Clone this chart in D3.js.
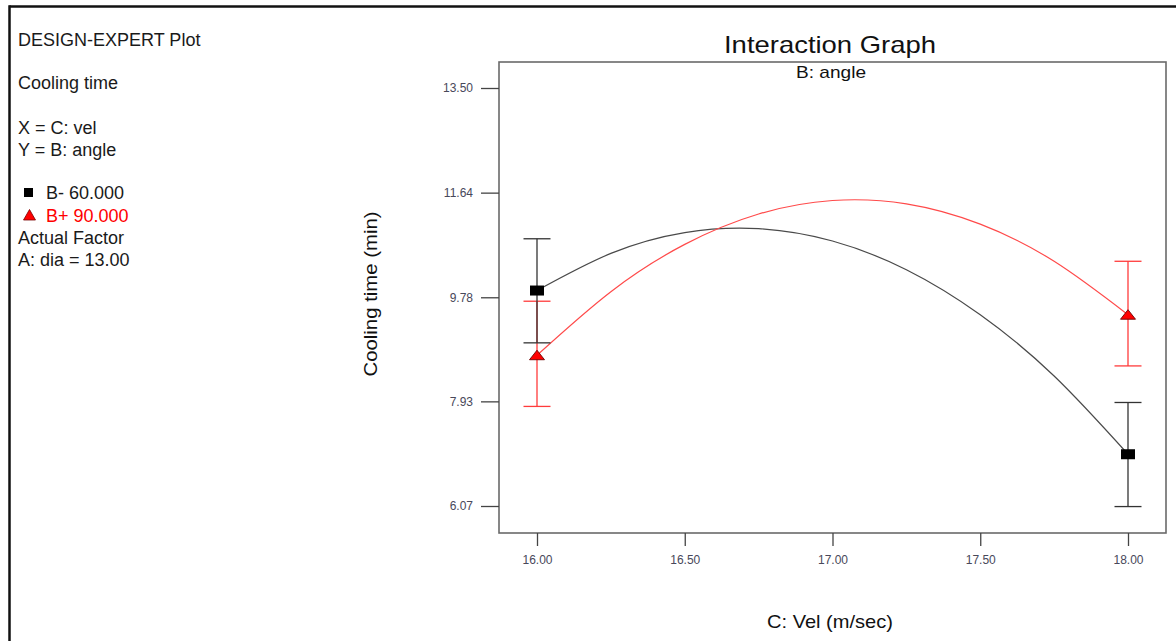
<!DOCTYPE html>
<html>
<head>
<meta charset="utf-8">
<script src="https://cdn.jsdelivr.net/npm/d3@7"></script>
<style>
  html, body { margin: 0; padding: 0; background: #fff; }
  svg { display: block; font-family: "Liberation Sans", Arial, sans-serif; }
</style>
</head>
<body>
<svg id="chart" width="1176" height="641"></svg>
<script>
// ---- data ----
const xLevels = [16.00, 18.00];
const bMinusMean = [9.90, 6.99];
const bMinusLow  = [8.97, 6.06];
const bMinusHigh = [10.82, 7.91];
const bPlusMean  = [8.75, 9.47];
const bPlusLow   = [7.84, 8.56];
const bPlusHigh  = [9.71, 10.42];
const curveX      = [16.00, 16.25, 16.50, 16.75, 17.00, 17.25, 17.50, 17.75, 18.00];
const bMinusCurve = [9.90, 10.56, 10.93, 11.00, 10.78, 10.27, 9.47, 8.38, 6.99];
const bPlusCurve  = [8.75, 9.88, 10.72, 11.26, 11.50, 11.44, 11.08, 10.42, 9.47];
const yTickValues = [6.07, 7.93, 9.78, 11.64, 13.50];
const yTickLabels = ["6.07", "7.93", "9.78", "11.64", "13.50"];
const xTickValues = [16.00, 16.50, 17.00, 17.50, 18.00];
const xTickLabels = ["16.00", "16.50", "17.00", "17.50", "18.00"];
const infoLines = ["DESIGN-EXPERT Plot", "Cooling time", "X = C: vel", "Y = B: angle"];
const seriesNames = ["B- 60.000", "B+ 90.000"];
const factorLines = ["Actual Factor", "A: dia = 13.00"];

// ---- layout ----
const svg = d3.select("#chart");
const frame = { left: 499, top: 62, right: 1166, bottom: 533 };
const x = d3.scaleLinear().domain([16, 18]).range([537, 1128]);
const y = d3.scaleLinear().domain([6.07, 13.50]).range([506, 88]);
const tickColor = "#48485a";
const axisColor = "#6a6a6a";

// outer border (top + left)
svg.append("line").attr("x1", 9.5).attr("x2", 1176).attr("y1", 6.5).attr("y2", 6.5)
  .attr("stroke", "#111").attr("stroke-width", 2.5);
svg.append("line").attr("x1", 9.5).attr("x2", 9.5).attr("y1", 5.3).attr("y2", 641)
  .attr("stroke", "#111").attr("stroke-width", 2.5);

// legend / info text
const info = svg.append("g").attr("font-size", 18).attr("fill", "#1a1a1a");
const infoY = [46, 89, 134, 156];
infoLines.forEach((t, i) => info.append("text").attr("x", 18).attr("y", infoY[i]).text(t));
info.append("rect").attr("x", 24).attr("y", 188).attr("width", 9).attr("height", 9).attr("fill", "#000");
info.append("text").attr("x", 46).attr("y", 199).text(seriesNames[0]);
info.append("path").attr("d", "M29.5,209.5 L35.5,220 L23.5,220 Z")
  .attr("fill", "#ff0000").attr("stroke", "#7a0000").attr("stroke-width", 0.8);
info.append("text").attr("x", 46).attr("y", 222).attr("fill", "#ff0000").text(seriesNames[1]);
info.append("text").attr("x", 18).attr("y", 244).text(factorLines[0]);
info.append("text").attr("x", 18).attr("y", 266).text(factorLines[1]);

// plot frame
svg.append("rect").attr("x", frame.left).attr("y", frame.top)
  .attr("width", frame.right - frame.left).attr("height", frame.bottom - frame.top)
  .attr("fill", "none").attr("stroke", axisColor).attr("stroke-width", 1.6);

// axes
const yAxis = d3.axisLeft(y).tickValues(yTickValues).tickSize(18).tickPadding(8)
  .tickFormat((d, i) => yTickLabels[i]);
const gy = svg.append("g").attr("transform", `translate(${frame.left},0)`).call(yAxis);
gy.select(".domain").remove();
gy.selectAll(".tick line").attr("stroke", "#444").attr("stroke-width", 1.3);
gy.selectAll(".tick text").attr("fill", tickColor).attr("font-size", 12)
  .attr("font-family", "'Liberation Sans', Arial, sans-serif");

const xAxis = d3.axisBottom(x).tickValues(xTickValues).tickSize(13).tickPadding(9)
  .tickFormat((d, i) => xTickLabels[i]);
const gx = svg.append("g").attr("transform", `translate(0,${frame.bottom})`).call(xAxis);
gx.select(".domain").remove();
gx.selectAll(".tick line").attr("stroke", "#444").attr("stroke-width", 1.3);
gx.selectAll(".tick text").attr("fill", tickColor).attr("font-size", 12)
  .attr("font-family", "'Liberation Sans', Arial, sans-serif");

// titles
svg.append("text").attr("x", 830).attr("y", 53).attr("text-anchor", "middle")
  .attr("font-size", 24).attr("fill", "#111")
  .attr("textLength", 212).attr("lengthAdjust", "spacingAndGlyphs").text("Interaction Graph");
svg.append("text").attr("x", 831).attr("y", 78).attr("text-anchor", "middle")
  .attr("font-size", 17).attr("fill", "#111")
  .attr("textLength", 70).attr("lengthAdjust", "spacingAndGlyphs").text("B: angle");
svg.append("text").attr("x", 830).attr("y", 628).attr("text-anchor", "middle")
  .attr("font-size", 19).attr("fill", "#111")
  .attr("textLength", 126).attr("lengthAdjust", "spacingAndGlyphs").text("C: Vel (m/sec)");
svg.append("text").attr("transform", "translate(377,294) rotate(-90)").attr("text-anchor", "middle")
  .attr("font-size", 19).attr("fill", "#111")
  .attr("textLength", 165).attr("lengthAdjust", "spacingAndGlyphs").text("Cooling time (min)");

// curves
const line = d3.line().x(d => x(d[0])).y(d => y(d[1])).curve(d3.curveNatural);
svg.append("path").datum(curveX.map((v, i) => [v, bMinusCurve[i]]))
  .attr("d", line).attr("fill", "none").attr("stroke", "#4a4a4a").attr("stroke-width", 1.2);
svg.append("path").datum(curveX.map((v, i) => [v, bPlusCurve[i]]))
  .attr("d", line).attr("fill", "none").attr("stroke", "#ff4a4a").attr("stroke-width", 1.2);

// error bars
function errBars(lows, highs, color) {
  const g = svg.append("g").attr("stroke", color).attr("stroke-width", 1.3);
  xLevels.forEach((xv, i) => {
    const cx = x(xv);
    g.append("line").attr("x1", cx).attr("x2", cx).attr("y1", y(lows[i])).attr("y2", y(highs[i]));
    g.append("line").attr("x1", cx - 13.5).attr("x2", cx + 13.5).attr("y1", y(lows[i])).attr("y2", y(lows[i]));
    g.append("line").attr("x1", cx - 13.5).attr("x2", cx + 13.5).attr("y1", y(highs[i])).attr("y2", y(highs[i]));
  });
}
errBars(bPlusLow, bPlusHigh, "#ff3b3b");
errBars(bMinusLow, bMinusHigh, "#333333");

// markers
xLevels.forEach((xv, i) => {
  svg.append("rect").attr("x", x(xv) - 7).attr("y", y(bMinusMean[i]) - 5)
    .attr("width", 14).attr("height", 10).attr("fill", "#000");
});
xLevels.forEach((xv, i) => {
  const cx = x(xv), cy = y(bPlusMean[i]);
  svg.append("path").attr("d", `M${cx},${cy - 5} L${cx + 7.5},${cy + 4.5} L${cx - 7.5},${cy + 4.5} Z`)
    .attr("fill", "#ff0000").attr("stroke", "#6a0000").attr("stroke-width", 0.9);
});
</script>
</body>
</html>
